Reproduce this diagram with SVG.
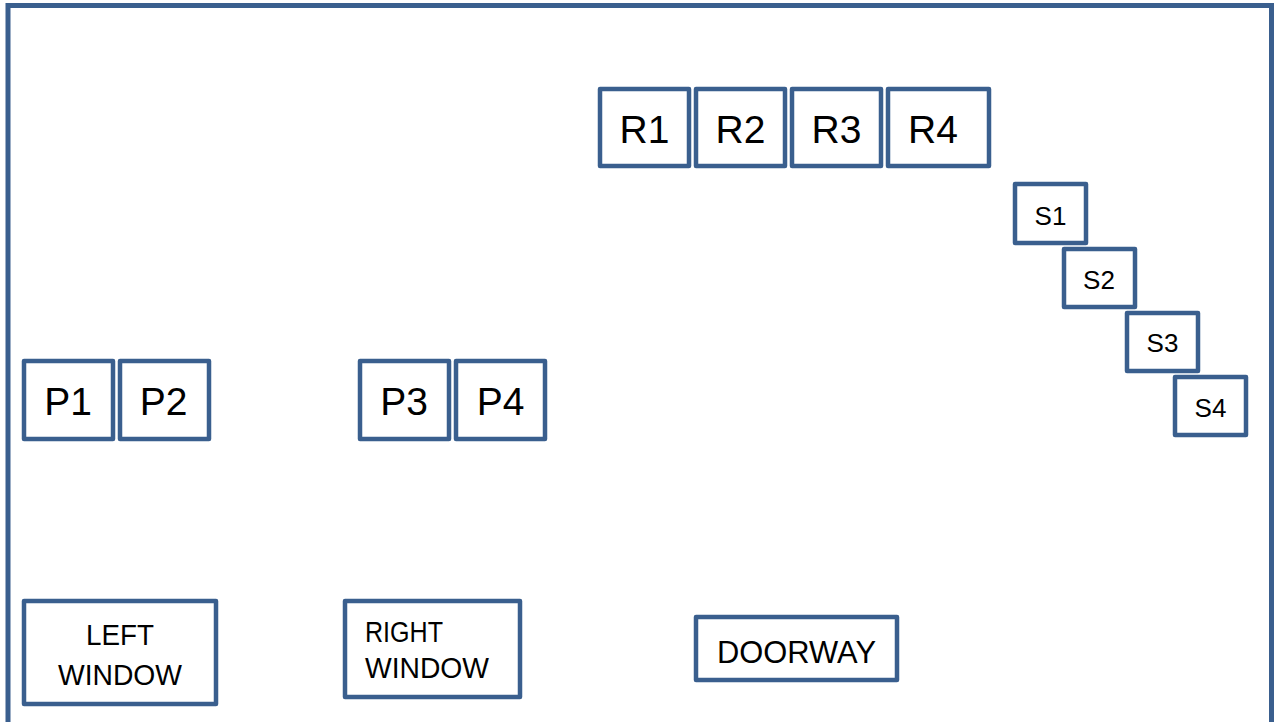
<svg xmlns="http://www.w3.org/2000/svg" width="1279" height="722" viewBox="0 0 1279 722">
<style>
.box{fill:#fff;stroke:#3a5f8e;stroke-width:4.5;stroke-linejoin:round}
.room{fill:#fff;stroke:#3a5f8e;stroke-width:5}
text{font-family:"Liberation Sans",Arial,sans-serif;fill:#000}
.big{font-size:39px;text-anchor:middle}
.sm{font-size:26px;text-anchor:middle}
.lab{font-size:30px}
.mid{text-anchor:middle}
</style>
<rect class="room" x="8" y="5.5" width="1263.5" height="740"/>
<g id="R1"><rect class="box" x="600" y="89" width="89" height="77"/><text class="big" x="644.5" y="143">R1</text></g>
<g id="R2"><rect class="box" x="696" y="89" width="89" height="77"/><text class="big" x="740.5" y="143">R2</text></g>
<g id="R3"><rect class="box" x="792" y="89" width="89" height="77"/><text class="big" x="836.5" y="143">R3</text></g>
<g id="R4"><rect class="box" x="888" y="89" width="101" height="77"/><text class="big" x="933" y="143">R4</text></g>
<g id="S1"><rect class="box" x="1015" y="184" width="71" height="59"/><text class="sm" x="1050.5" y="225">S1</text></g>
<g id="S2"><rect class="box" x="1064" y="249" width="71" height="58"/><text class="sm" x="1099" y="289">S2</text></g>
<g id="S3"><rect class="box" x="1127" y="313" width="71" height="58"/><text class="sm" x="1162.5" y="352">S3</text></g>
<g id="S4"><rect class="box" x="1175" y="377" width="71" height="58"/><text class="sm" x="1210.5" y="417">S4</text></g>
<g id="P1"><rect class="box" x="24" y="361" width="89" height="78"/><text class="big" x="68" y="415">P1</text></g>
<g id="P2"><rect class="box" x="120" y="361" width="89" height="78"/><text class="big" x="163.5" y="415">P2</text></g>
<g id="P3"><rect class="box" x="360" y="361" width="89" height="78"/><text class="big" x="404" y="415">P3</text></g>
<g id="P4"><rect class="box" x="456" y="361" width="89" height="78"/><text class="big" x="500.5" y="415">P4</text></g>
<g id="LEFT_WINDOW"><rect class="box" x="24" y="601" width="192" height="103"/><text class="lab mid" x="120" y="645" textLength="68" lengthAdjust="spacingAndGlyphs">LEFT</text><text class="lab mid" x="120" y="685" textLength="124" lengthAdjust="spacingAndGlyphs">WINDOW</text></g>
<g id="RIGHT_WINDOW"><rect class="box" x="345" y="601" width="175" height="96"/><text class="lab" x="365" y="642" textLength="78" lengthAdjust="spacingAndGlyphs">RIGHT</text><text class="lab" x="365" y="678" textLength="124" lengthAdjust="spacingAndGlyphs">WINDOW</text></g>
<g id="DOORWAY"><rect class="box" x="696" y="617" width="201" height="63"/><text class="lab mid" x="796.5" y="663" style="font-size:32px" textLength="159" lengthAdjust="spacingAndGlyphs">DOORWAY</text></g>
<g id="connectors"></g>
</svg>
